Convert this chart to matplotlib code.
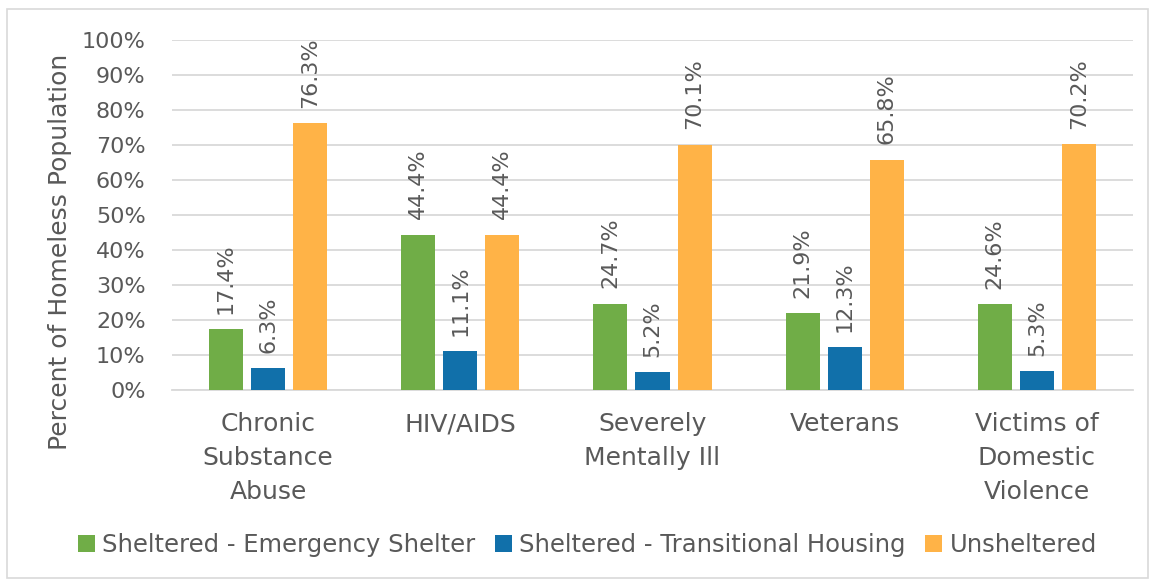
import numpy as np
import matplotlib.pyplot as plt
from matplotlib.patches import Rectangle

categories = ['Chronic\nSubstance\nAbuse', 'HIV/AIDS', 'Severely\nMentally Ill', 'Veterans', 'Victims of\nDomestic\nViolence']
series_names = ['Sheltered - Emergency Shelter', 'Sheltered - Transitional Housing', 'Unsheltered']
emergency = [17.4, 44.4, 24.7, 21.9, 24.6]
transitional = [6.3, 11.1, 5.2, 12.3, 5.3]
unsheltered = [76.3, 44.4, 70.1, 65.8, 70.2]
colors = ['#70AD47', '#1170AA', '#FFB347']
yticks = [0, 10, 20, 30, 40, 50, 60, 70, 80, 90, 100]

txt = '#595959'
fs = 16
fs_big = 18

fig = plt.figure(figsize=(11.52, 5.81), dpi=100)
fig.patches.append(Rectangle((7/1152, 3/581), 1141/1152, 569/581, transform=fig.transFigure,
                             fill=False, edgecolor='#D9D9D9', linewidth=1.2))
ax = fig.add_axes([172/1152, 1-390/581, 961/1152, 350/581])

x = np.arange(len(categories))
w = 0.177
step = 0.219
for i, (vals, name) in enumerate(zip([emergency, transitional, unsheltered], series_names)):
    pos = x + (i-1)*step
    ax.bar(pos, vals, width=w, color=colors[i], label=name, zorder=3)
    for p, v in zip(pos, vals):
        ax.annotate('{:.1f}%'.format(v), (p, v), xytext=(0, 11), textcoords='offset points',
                    rotation=90, ha='center', va='bottom', fontsize=fs, color=txt)

ax.set_xlim(-0.5, len(categories)-0.5)
ax.set_ylim(0, 100)
ax.set_yticks(yticks)
ax.set_yticklabels(['{}%'.format(t) for t in yticks])
ax.yaxis.grid(True, color='#D9D9D9', linewidth=1.3, zorder=0)
ax.set_xticks(x)
ax.set_xticklabels(categories, linespacing=1.52, fontsize=fs_big)
ax.tick_params(axis='both', length=0, colors=txt)
ax.tick_params(axis='y', labelsize=fs, pad=19)
ax.tick_params(axis='x', pad=16)
for s in ['top', 'right', 'left']:
    ax.spines[s].set_visible(False)
ax.spines['bottom'].set_color('#D9D9D9')
ax.spines['bottom'].set_linewidth(1.3)
ax.set_ylabel('Percent of Homeless Population', fontsize=fs_big, color=txt)
ax.yaxis.set_label_coords(-0.1165, 0.394)
ax.yaxis.label.set_va('center')

fig.legend(loc='center', bbox_to_anchor=(0.51, 1-545/581), ncol=3, frameon=False,
           fontsize=17.5, handlelength=0.7, handleheight=0.7, handletextpad=0.3,
           columnspacing=0.8, labelcolor=txt)

plt.savefig('out.png', dpi=100)
